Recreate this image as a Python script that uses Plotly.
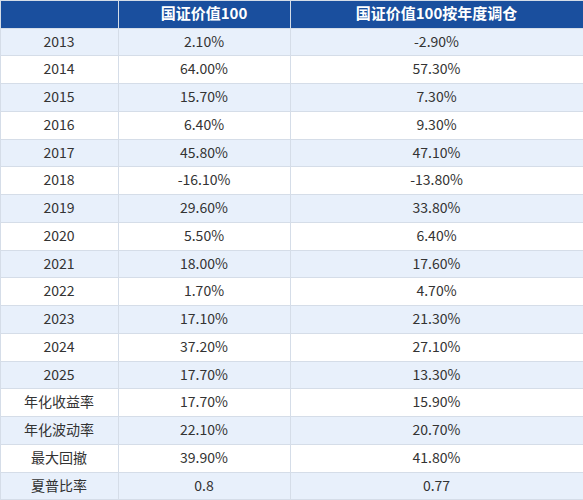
import plotly.graph_objects as go

headers = ["", "国证价值100", "国证价值100按年度调仓"]
labels = ["2013", "2014", "2015", "2016", "2017", "2018", "2019", "2020", "2021",
          "2022", "2023", "2024", "2025", "年化收益率", "年化波动率", "最大回撤", "夏普比率"]
index100 = ["2.10%", "64.00%", "15.70%", "6.40%", "45.80%", "-16.10%", "29.60%", "5.50%",
            "18.00%", "1.70%", "17.10%", "37.20%", "17.70%", "17.70%", "22.10%", "39.90%", "0.8"]
annual_rebal = ["-2.90%", "57.30%", "7.30%", "9.30%", "47.10%", "-13.80%", "33.80%", "6.40%",
                "17.60%", "4.70%", "21.30%", "27.10%", "13.30%", "15.90%", "20.70%", "41.80%", "0.77"]

light = "#e8f0fb"
white = "#ffffff"
row_fill = [light if i % 2 == 0 else white for i in range(len(labels))]

fig = go.Figure(go.Table(
    columnwidth=[118, 172, 293],
    header=dict(
        values=headers,
        fill_color="#1a4f9e",
        line=dict(color="#d5dde8", width=1),
        font=dict(color="white", size=15, family="Noto Sans CJK SC", weight="bold"),
        align="center",
        height=28,
    ),
    cells=dict(
        values=[labels, index100, annual_rebal],
        fill_color=[row_fill, row_fill, row_fill],
        line=dict(color="#d5dde8", width=1),
        font=dict(color="#333333", size=14, family="Noto Sans CJK SC"),
        align="center",
        height=27.75,
    ),
))

fig.update_layout(
    width=583, height=500,
    margin=dict(l=0, r=0, t=0, b=0, pad=0),
    paper_bgcolor="white",
)

fig.write_html("out.html", config={"displayModeBar": False},
               post_script="document.body.style.margin='0';")
